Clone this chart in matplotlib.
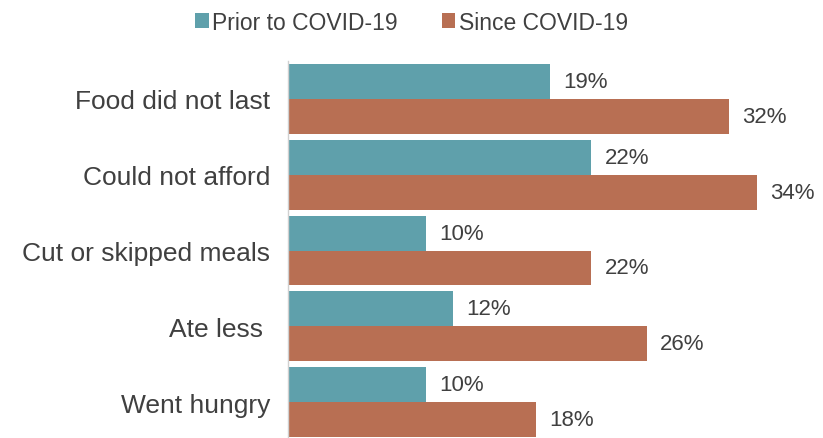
import matplotlib.pyplot as plt
import numpy as np

plt.rcParams['font.family'] = ['Liberation Sans', 'DejaVu Sans']

categories = ["Food did not last", "Could not afford", "Cut or skipped meals", "Ate less ", "Went hungry"]
prior = [19, 22, 10, 12, 10]
since = [32, 34, 22, 26, 18]
series_names = ["Prior to COVID-19", "Since COVID-19"]

teal = "#5fa0ab"
rust = "#b86f53"
text_col = "#404040"

fig = plt.figure(figsize=(8.23, 4.39), dpi=100)
ax = fig.add_axes([288/823, -2/439, 535/823, 379/439])

y = np.arange(len(categories))
h = 0.46
b1 = ax.barh(y - h/2, prior, height=h, color=teal, label=series_names[0])
b2 = ax.barh(y + h/2, since, height=h, color=rust, label=series_names[1])

for bars, vals in ((b1, prior), (b2, since)):
    for bar, v in zip(bars, vals):
        ax.text(bar.get_width() + 0.95, bar.get_y() + bar.get_height()/2, f"{v}%",
                va="center", ha="left", fontsize=16, color=text_col)

ax.set_xlim(0, 38.8)
ax.set_ylim(4.5, -0.5)
ax.set_yticks(y)
ax.set_yticklabels(categories, fontsize=19, color=text_col)
ax.tick_params(axis="y", length=0, pad=13)
ax.set_xticks([])
for side in ("top", "right", "bottom"):
    ax.spines[side].set_visible(False)
ax.spines["left"].set_color("#d0d0d0")
ax.spines["left"].set_linewidth(1.0)

fig.legend(handles=[b1, b2], labels=series_names, loc="upper center",
           bbox_to_anchor=(0.5, 1.02), ncol=2, frameon=False,
           fontsize=16.5, handlelength=0.6, handleheight=0.6,
           handletextpad=0.15, columnspacing=1.9, labelcolor=text_col)

fig.savefig("out.png", dpi=100)
